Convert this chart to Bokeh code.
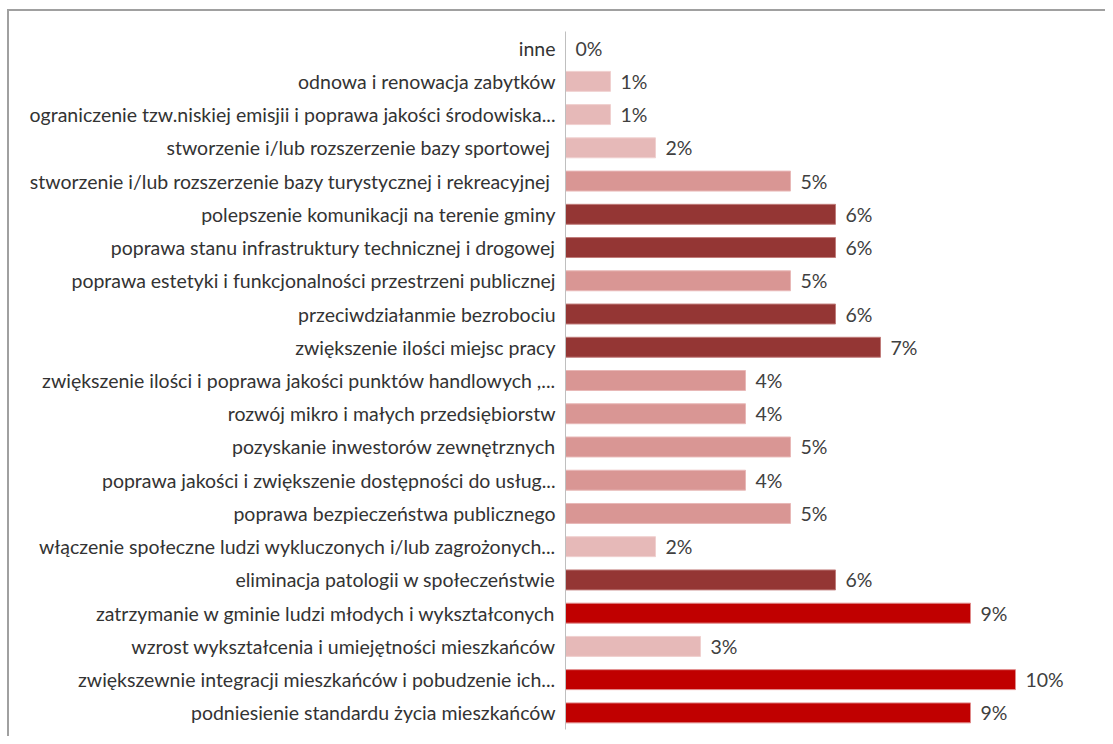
from bokeh.plotting import figure
from bokeh.models import ColumnDataSource, Range1d, LabelSet
from bokeh.core.properties import value
from bokeh.embed import file_html
from bokeh.resources import INLINE

categories = [
    "inne",
    "odnowa i renowacja zabytków",
    "ograniczenie tzw.niskiej emisjii i poprawa jakości środowiska...",
    "stworzenie i/lub rozszerzenie  bazy sportowej",
    "stworzenie i/lub rozszerzenie  bazy turystycznej i rekreacyjnej",
    "polepszenie komunikacji na terenie gminy",
    "poprawa stanu infrastruktury technicznej i drogowej",
    "poprawa estetyki i funkcjonalności przestrzeni publicznej",
    "przeciwdziałanmie bezrobociu",
    "zwiększenie ilości miejsc pracy",
    "zwiększenie ilości i poprawa jakości punktów handlowych ,...",
    "rozwój mikro i małych przedsiębiorstw",
    "pozyskanie inwestorów zewnętrznych",
    "poprawa jakości i zwiększenie dostępności do usług...",
    "poprawa bezpieczeństwa publicznego",
    "włączenie społeczne ludzi wykluczonych i/lub zagrożonych...",
    "eliminacja patologii w społeczeństwie",
    "zatrzymanie w gminie ludzi młodych i wykształconych",
    "wzrost wykształcenia i umiejętności mieszkańców",
    "zwiększewnie integracji mieszkańców i pobudzenie ich...",
    "podniesienie standardu życia mieszkańców",
]
values = [0, 1, 1, 2, 5, 6, 6, 5, 6, 7, 4, 4, 5, 4, 5, 2, 6, 9, 3, 10, 9]


def fill_for(v):
    if v >= 8:
        return "#C00000"
    if v >= 6:
        return "#943634"
    if v >= 4:
        return "#D99694"
    return "#E6B9B8"


def edge_for(v):
    if v >= 8:
        return "#E08A8A"
    if v >= 6:
        return "#C07C7A"
    if v >= 4:
        return "#E8B8B7"
    return "#F0D0CF"


src = ColumnDataSource(dict(
    cat=categories,
    val=values,
    lab=[f"{v}%" for v in values],
    fill=[fill_for(v) for v in values],
    edge=[edge_for(v) for v in values],
))

FONT = "Lato"
FS = "19.5px"

p = figure(
    width=1105, height=736,
    y_range=list(reversed(categories)),
    x_range=Range1d(0, 12),
    output_backend="svg", toolbar_location=None,
    min_border_left=565, min_border_right=0,
    min_border_top=31, min_border_bottom=7,
)
p.styles = {
    "background": (
        "linear-gradient(#A0A0A0, #A0A0A0) 7px 9px / 2px 100% no-repeat, "
        "linear-gradient(#A0A0A0, #A0A0A0) 7px 9px / 100% 2px no-repeat, white"
    )
}
p.outline_line_color = None
p.background_fill_color = None
p.border_fill_color = None

p.hbar(y="cat", right="val", left=0, height=0.6, source=src,
       fill_color="fill", line_color="edge", line_width=1)

labels = LabelSet(x="val", y="cat", text="lab", source=src,
                  x_offset=10, text_baseline="middle", text_align="left",
                  text_font=value(FONT), text_font_size=value(FS),
                  text_color="#404040")
p.add_layout(labels)

p.xaxis.visible = False
p.xgrid.visible = False
p.ygrid.visible = False
yax = p.yaxis[0]
yax.axis_line_color = "#BFBFBF"
yax.axis_line_width = 1
yax.major_tick_line_color = None
yax.minor_tick_line_color = None
yax.major_tick_out = 0
yax.major_tick_in = 0
yax.major_label_standoff = 10
yax.major_label_text_font = FONT
yax.major_label_text_font_size = FS
yax.major_label_text_color = "#333333"
yax.major_label_text_align = "right"

open("out.html", "w").write(file_html(p, INLINE))
